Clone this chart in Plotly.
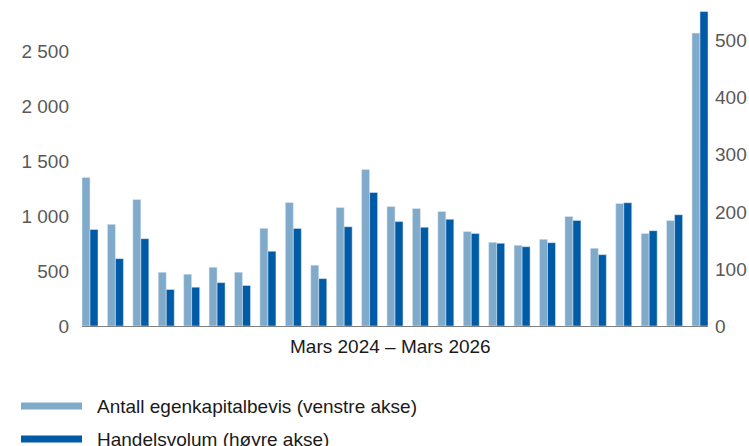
import plotly.graph_objects as go

# Mars 2024 - Mars 2026, månedlig
months = [
    "mar 2024", "apr 2024", "mai 2024", "jun 2024", "jul 2024", "aug 2024",
    "sep 2024", "okt 2024", "nov 2024", "des 2024", "jan 2025", "feb 2025",
    "mar 2025", "apr 2025", "mai 2025", "jun 2025", "jul 2025", "aug 2025",
    "sep 2025", "okt 2025", "nov 2025", "des 2025", "jan 2026", "feb 2026",
    "mar 2026",
]
antall = [1350, 924, 1150, 489, 471, 534, 489, 888, 1123, 553, 1078, 1422,
          1087, 1069, 1042, 860, 761, 734, 788, 996, 707, 1114, 842, 960, 2663]
volum = [169, 118, 153, 64, 68, 76, 71, 131, 171, 83, 174, 234,
         183, 173, 187, 162, 145, 139, 146, 185, 125, 216, 167, 195, 551]

LIGHT = "#7FAACA"
DARK = "#005BA6"
FONT = "Liberation Sans, Arial, sans-serif"
W, H = 749, 446
L, R, T, B = 82, 41, 11, 120
PW, PH = W - L - R, H - T - B


def px_x(x):
    return (x - L) / PW


def px_y(y):
    return (H - B - y) / PH


fig = go.Figure()
fig.add_bar(x=list(range(len(months))), y=antall, name="Antall egenkapitalbevis (venstre akse)",
            marker_color=LIGHT, offsetgroup="a", yaxis="y", showlegend=False)
fig.add_bar(x=list(range(len(months))), y=volum, name="Handelsvolum (høyre akse)",
            marker_color=DARK, offsetgroup="b", yaxis="y2", showlegend=False)

fig.update_layout(
    width=W, height=H,
    margin=dict(l=L, r=R, t=T, b=B, autoexpand=False),
    paper_bgcolor="white", plot_bgcolor="white",
    barmode="group", bargap=0.37, bargroupgap=0.0,
    separators=", ",
    font=dict(family=FONT, size=19, color="#595959"),
    xaxis=dict(range=[-0.315, len(months) - 1 + 0.315], showticklabels=False,
               showgrid=False, zeroline=False, showline=True, linecolor="#808080",
               linewidth=1, ticks="", automargin=False),
    yaxis=dict(range=[0, 2864], tickvals=[0, 500, 1000, 1500, 2000, 2500],
               tickformat=",d", showgrid=False, zeroline=False, showline=False,
               ticks="", ticklabelstandoff=12, automargin=False),
    yaxis2=dict(range=[0, 552], tickvals=[0, 100, 200, 300, 400, 500],
                overlaying="y", side="right", showgrid=False, zeroline=False,
                showline=False, ticks="", ticklabelstandoff=6, automargin=False),
)

# x-aksetittel
fig.add_annotation(text="Mars 2024 – Mars 2026", xref="paper", yref="paper",
                   x=px_x(390.5), y=px_y(346), xanchor="center", yanchor="middle",
                   showarrow=False, font=dict(family=FONT, size=19, color="#1a1a1a"))

# tegnforklaring
legend = [("Antall egenkapitalbevis (venstre akse)", LIGHT, 406),
          ("Handelsvolum (høyre akse)", DARK, 439)]
for label, color, yc in legend:
    fig.add_shape(type="line", xref="paper", yref="paper",
                  x0=px_x(21), x1=px_x(82), y0=px_y(yc), y1=px_y(yc),
                  line=dict(color=color, width=7))
    fig.add_annotation(text=label, xref="paper", yref="paper",
                       x=px_x(95), y=px_y(yc), xanchor="left", yanchor="middle",
                       showarrow=False, font=dict(family=FONT, size=19, color="#1a1a1a"))

fig.write_html("out.html", config={"displayModeBar": False},
               post_script="document.body.style.margin='0px';")
